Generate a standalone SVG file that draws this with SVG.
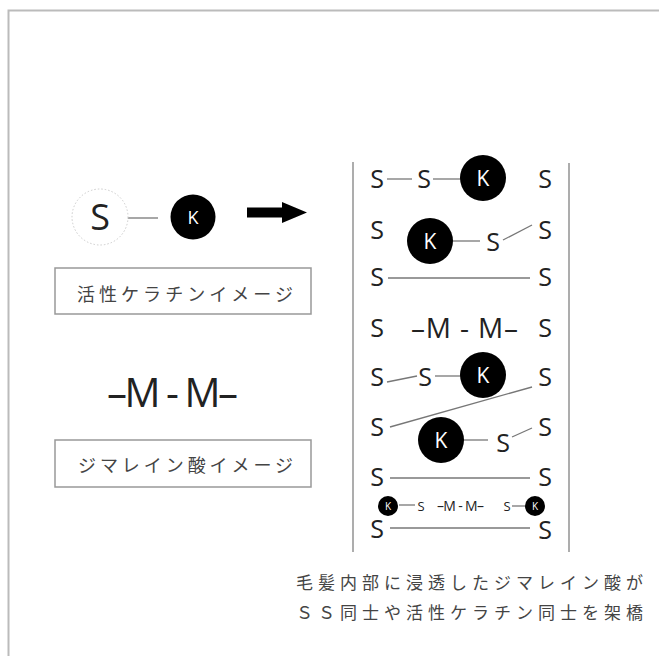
<svg xmlns="http://www.w3.org/2000/svg" width="659" height="656" viewBox="0 0 659 656">
<style>
.lat{font-family:"Open Sans","Noto Sans",sans-serif;fill:#222}
.s{font-size:25px;text-anchor:middle}
.jp{font-family:"Noto Sans CJK JP","Noto Sans",sans-serif;fill:#444}
.kc{fill:#000}
.kt{font-family:"Open Sans","Noto Sans",sans-serif;fill:#fff;text-anchor:middle}
.ln{stroke:#777;stroke-width:1.3;fill:none}
.box{fill:#fff;stroke:#999;stroke-width:1.5}
.rail{stroke:#999;stroke-width:1.6}
</style>
<rect width="659" height="656" fill="#fff"/>
<path d="M8.5,656 V10.5 H659" fill="none" stroke="#bbb" stroke-width="2"/>

<g id="connectors">
  <line class="ln" x1="126" y1="218" x2="158" y2="218"/>
  <line class="ln" x1="387" y1="179" x2="412" y2="179"/>
  <line class="ln" x1="433" y1="179" x2="462" y2="179"/>
  <line class="ln" x1="453" y1="241" x2="480" y2="241"/>
  <line class="ln" x1="503" y1="240" x2="532" y2="225"/>
  <line class="ln" x1="388" y1="278" x2="530" y2="278"/>
  <line class="ln" x1="387" y1="382" x2="417" y2="376"/>
  <line class="ln" x1="435" y1="376" x2="462" y2="376"/>
  <line class="ln" x1="390" y1="427" x2="532" y2="387"/>
  <line class="ln" x1="463" y1="440" x2="488" y2="440"/>
  <line class="ln" x1="512" y1="437" x2="532" y2="428"/>
  <line class="ln" x1="390" y1="478" x2="530" y2="478"/>
  <line class="ln" x1="399" y1="505" x2="415" y2="505"/>
  <line class="ln" x1="512" y1="506" x2="525" y2="506"/>
  <line class="ln" x1="390" y1="528" x2="530" y2="528"/>
</g>

<g id="node-s">
  <circle cx="100" cy="217" r="28" fill="#fff" stroke="#ccc" stroke-width="1" stroke-dasharray="1.5 2"/>
  <text class="lat" x="100" y="230" font-size="36" text-anchor="middle">S</text>
</g>
<g id="node-k">
  <circle class="kc" cx="193" cy="217" r="22.5"/>
  <text class="kt" x="193" y="223.5" font-size="18">K</text>
</g>
<g id="arrow">
  <polygon points="247,207.5 282,207.5 282,202 307,212.5 282,223 282,217.5 247,217.5" fill="#000"/>
</g>
<g id="box-keratin">
  <rect class="box" x="55" y="268" width="256" height="46"/>
  <text class="jp" x="77" y="300.5" font-size="18" textLength="216" lengthAdjust="spacing">活性ケラチンイメージ</text>
</g>
<g id="label-mm">
  <text class="lat" x="107" y="407" font-size="40" textLength="131" lengthAdjust="spacing">–M - M–</text>
</g>
<g id="box-dimalein">
  <rect class="box" x="55" y="440" width="256" height="47"/>
  <text class="jp" x="78" y="472" font-size="18" textLength="215" lengthAdjust="spacing">ジマレイン酸イメージ</text>
</g>

<g id="strand">
  <line class="rail" x1="353" y1="162" x2="353" y2="552"/>
  <line class="rail" x1="569" y1="163" x2="569" y2="552"/>
</g>

<g id="row1">
  <text class="lat s" x="377" y="188">S</text>
  <text class="lat s" x="424" y="188">S</text>
  <circle class="kc" cx="483" cy="178" r="23"/>
  <text class="kt" x="483" y="185.5" font-size="21">K</text>
  <text class="lat s" x="545" y="188">S</text>
</g>
<g id="row2">
  <text class="lat s" x="377" y="239">S</text>
  <circle class="kc" cx="430" cy="241" r="23"/>
  <text class="kt" x="430" y="248.5" font-size="21">K</text>
  <text class="lat s" x="493" y="251">S</text>
  <text class="lat s" x="545" y="239">S</text>
</g>
<g id="row3">
  <text class="lat s" x="377" y="286">S</text>
  <text class="lat s" x="545" y="286">S</text>
</g>
<g id="row4">
  <text class="lat s" x="377" y="337">S</text>
  <text class="lat" x="411" y="338" font-size="28" textLength="107" lengthAdjust="spacing">–M - M–</text>
  <text class="lat s" x="545" y="337">S</text>
</g>
<g id="row5">
  <text class="lat s" x="377" y="386">S</text>
  <text class="lat s" x="425" y="386">S</text>
  <circle class="kc" cx="483" cy="375" r="23"/>
  <text class="kt" x="483" y="382.5" font-size="21">K</text>
  <text class="lat s" x="545" y="386">S</text>
</g>
<g id="row6">
  <text class="lat s" x="377" y="436">S</text>
  <circle class="kc" cx="441" cy="440" r="23"/>
  <text class="kt" x="441" y="447.5" font-size="21">K</text>
  <text class="lat s" x="503" y="452">S</text>
  <text class="lat s" x="545" y="436">S</text>
</g>
<g id="row7">
  <text class="lat s" x="377" y="486">S</text>
  <text class="lat s" x="545" y="486">S</text>
</g>
<g id="row8">
  <circle class="kc" cx="388" cy="506" r="10"/>
  <text class="kt" x="388" y="509.5" font-size="10">K</text>
  <text class="lat" x="421" y="510.5" font-size="13" text-anchor="middle">S</text>
  <text class="lat" x="437" y="510.5" font-size="14" textLength="47" lengthAdjust="spacing">–M - M–</text>
  <text class="lat" x="507" y="510.5" font-size="13" text-anchor="middle">S</text>
  <circle class="kc" cx="535" cy="506" r="10"/>
  <text class="kt" x="535" y="509.5" font-size="10">K</text>
</g>
<g id="row9">
  <text class="lat s" x="377" y="538">S</text>
  <text class="lat s" x="545" y="539">S</text>
</g>

<g id="caption">
  <text class="jp" x="296" y="588.5" font-size="17" textLength="347" lengthAdjust="spacing">毛髪内部に浸透したジマレイン酸が</text>
  <text class="jp" x="296" y="618.5" font-size="17" textLength="347" lengthAdjust="spacing">ＳＳ同士や活性ケラチン同士を架橋</text>
</g>
</svg>
